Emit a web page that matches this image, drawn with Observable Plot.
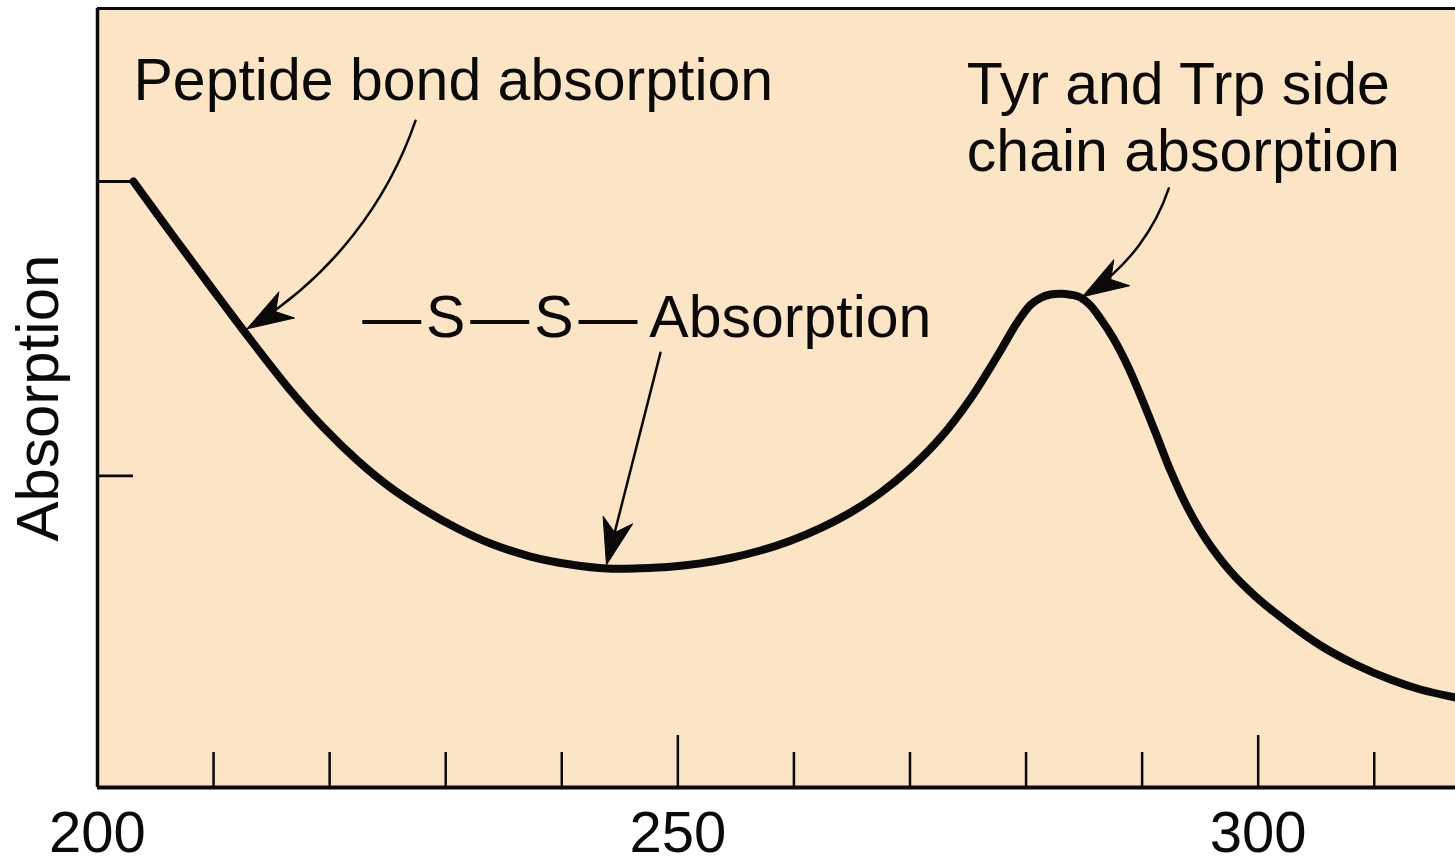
<!DOCTYPE html>
<html>
<head>
<meta charset="utf-8">
<script src="https://cdn.jsdelivr.net/npm/d3@7"></script>
<script src="https://cdn.jsdelivr.net/npm/@observablehq/plot@0.6"></script>
<style>
  html, body { margin: 0; padding: 0; background: #ffffff; }
</style>
</head>
<body>
<div id="chart"></div>
<script>
// ---- data ----
// flat (saturated) start of the spectrum
const flatWavelength = [200, 203.1];
const flatAbsorption = [77.8, 77.8];
// measured spectrum
const wavelength = [203.10, 206.55, 209.99, 212.58, 216.63, 219.47, 222.40, 225.24, 228.09, 231.02, 233.86, 237.31, 240.75, 243.94,
  246.78, 249.37, 251.96, 254.54, 257.12, 259.71, 262.29, 264.88, 267.46, 270.04, 272.63, 275.21, 277.80, 279.09, 280.38, 281.24,
  282.10, 283.14, 284.00, 284.69, 285.55, 286.41, 287.53, 288.74, 289.86, 291.15, 292.44, 293.91, 295.46, 297.61, 299.77, 302.78,
  305.37, 308.38, 311.40, 313.98, 317.00];
const absorption = [77.79, 70.73, 63.80, 58.66, 50.96, 46.21, 41.98, 38.51, 35.69, 33.25, 31.32, 29.65, 28.63, 28.11,
  28.15, 28.34, 28.77, 29.46, 30.42, 31.69, 33.31, 35.31, 37.82, 40.98, 44.90, 49.91, 56.07, 59.35, 61.94, 62.84,
  63.29, 63.39, 63.22, 62.90, 61.87, 60.20, 57.64, 54.17, 50.32, 45.57, 40.69, 35.94, 31.96, 27.73, 24.52, 20.92,
  18.23, 15.79, 13.86, 12.58, 11.55];

const xTickValues = [210, 220, 230, 240, 260, 270, 280, 290, 310];
const xMajorTickValues = [250, 300];
const xLabelValues = [200, 250, 300];
const yTickValues = [40];
const yLabel = "Absorption";

const annotationTexts = ["Peptide bond absorption", "Tyr and Trp side\nchain absorption", "—\u200AS\u200A—\u200AS\u200A—\u2009Absorption"];
const annotationX = [203.1, 274.9, 222.8];
const annotationY = [94.3, 93.8, 64.0];

const arrowX1 = [227.4, 248.5, 292.3];
const arrowY1 = [85.6, 55.8, 76.9];
const arrowX2 = [212.9, 243.85, 284.86];
const arrowY2 = [58.9, 28.6, 63.0];
const arrowBend = [20, 0, 20];

// ---- layout ----
const W = 1455, H = 864, mL = 97, mR = 0, mT = 8, mB = 77;
const xDomain = [200, 317], yDomain = [0, 100];
const kx = (W - mL - mR) / (xDomain[1] - xDomain[0]);
const ky = (H - mT - mB) / (yDomain[1] - yDomain[0]);

const flat = flatWavelength.map((w, i) => ({w, a: flatAbsorption[i]}));
const spectrum = wavelength.map((w, i) => ({w, a: absorption[i]}));
const notes = annotationTexts.map((t, i) => ({t, x: annotationX[i], y: annotationY[i]}));
const arrows = arrowX1.map((x1, i) => ({x1, y1: arrowY1[i], x2: arrowX2[i], y2: arrowY2[i], bend: arrowBend[i]}));

// end-tangent angle of each (possibly bent) arrow, for the filled head
const headRotate = (a) => {
  const dx = (a.x2 - a.x1) * kx, dy = -(a.y2 - a.y1) * ky;
  return Math.atan2(dy, dx) * 180 / Math.PI + a.bend + 90;
};

const headShape = {
  draw(context, l) {
    const w = l * 0.33;
    context.moveTo(0, -l);
    context.lineTo(w, 0);
    context.lineTo(0, -l * 0.28);
    context.lineTo(-w, 0);
    context.closePath();
  }
};

const ink = "#0a0a0a";
const chart = Plot.plot({
  width: W,
  height: H,
  marginLeft: mL,
  marginRight: mR,
  marginTop: mT,
  marginBottom: mB,
  x: {domain: xDomain},
  y: {domain: yDomain, axis: null},
  style: {fontFamily: "'Liberation Sans', Arial, Helvetica, sans-serif", background: "#ffffff", color: ink, overflow: "visible"},
  marks: [
    Plot.frame({fill: "#fce5c5", stroke: "none"}),
    // axes frame lines
    Plot.ruleY([yDomain[1]], {stroke: ink, strokeWidth: 3}),
    Plot.ruleX([xDomain[0]], {stroke: ink, strokeWidth: 3.5}),
    Plot.ruleY([yDomain[0]], {stroke: ink, strokeWidth: 4}),
    // inward ticks
    Plot.ruleX(xTickValues, {y1: 0, y2: 35 / ky, stroke: ink, strokeWidth: 2.5}),
    Plot.ruleX(xMajorTickValues, {y1: 0, y2: 52 / ky, stroke: ink, strokeWidth: 2.5}),
    Plot.ruleY(yTickValues, {x1: xDomain[0], x2: xDomain[0] + 36 / kx, stroke: ink, strokeWidth: 2.8}),
    Plot.axisX({ticks: xLabelValues, tickSize: 0, tickPadding: 23, fontSize: 58, label: null}),
    Plot.text([yLabel], {frameAnchor: "left", dx: -40, rotate: -90, textAnchor: "middle", lineAnchor: "bottom", fontSize: 60, fill: ink}),
    // spectrum
    Plot.line(flat, {x: "w", y: "a", stroke: ink, strokeWidth: 3}),
    Plot.line(spectrum, {x: "w", y: "a", stroke: ink, strokeWidth: 8, curve: "catmull-rom", strokeLinejoin: "round"}),
    // annotations
    Plot.text(notes, {x: "x", y: "y", text: "t", textAnchor: "start", lineAnchor: "top", fontSize: 59, lineHeight: 1.136, fill: ink}),
    ...arrows.map((a) => Plot.arrow([a], {x1: "x1", y1: "y1", x2: "x2", y2: "y2", bend: a.bend, headLength: 0, insetEnd: 12, stroke: ink, strokeWidth: 2.5})),
    Plot.vector(arrows, {x: "x2", y: "y2", rotate: headRotate, length: 46, anchor: "end", shape: headShape, fill: ink, stroke: ink, strokeWidth: 1})
  ]
});
document.getElementById("chart").appendChild(chart);
</script>
</body>
</html>
